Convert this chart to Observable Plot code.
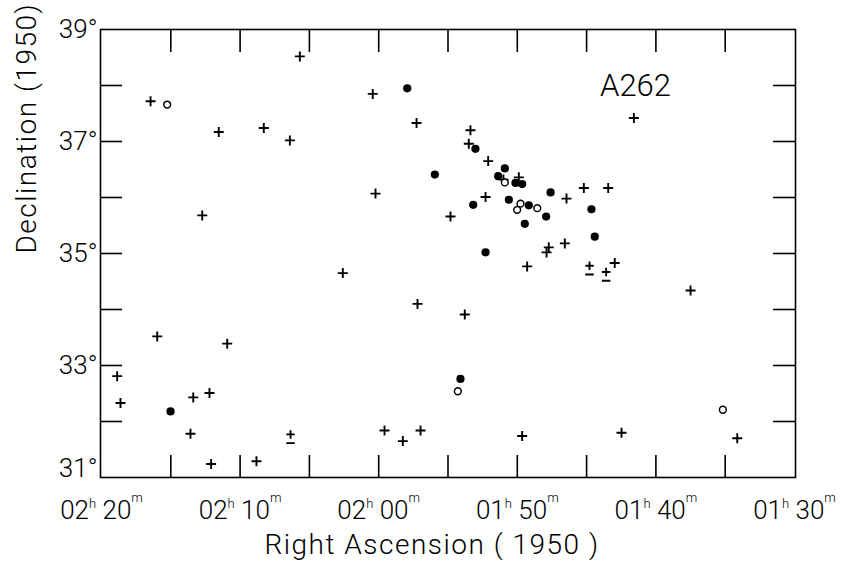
<!DOCTYPE html>
<html><head><meta charset="utf-8">
<script src="https://cdn.jsdelivr.net/npm/d3@7"></script>
<script src="https://cdn.jsdelivr.net/npm/@observablehq/plot@0.6"></script>
<style>
body{margin:0;background:#fff;}
#chart{width:841px;height:563px;}
</style></head><body><div id="chart"></div>
<script>
// Right Ascension in minutes of time (140 = 02h 20m, 90 = 01h 30m); Declination in degrees (1950)
const plusRA  = [136.46,131.54,128.29,126.41,125.69,120.43,117.27,120.23,132.73,122.59,
                 113.38,113.50,112.10,111.00,109.89,105.20,103.44,106.45,112.29,114.82,
                 107.73,107.89,106.57,109.29,102.97,101.59,135.98,130.93,138.87,138.63,
                 133.38,132.21,133.58,132.09,128.82,119.58,118.26,116.98,117.20,113.79,
                 109.65,102.48,97.50,94.13];
const plusDec = [37.72,37.17,37.24,37.02,38.52,37.85,37.33,36.07,35.68,34.65,
                 37.20,36.96,36.65,36.32,36.36,36.17,36.17,35.98,36.01,35.66,
                 35.11,35.02,35.18,34.77,34.83,37.42,33.52,33.39,32.81,32.33,
                 32.43,32.51,31.78,31.24,31.29,31.84,31.65,31.84,34.10,33.91,
                 31.74,31.80,34.34,31.70];
const pmRA  = [104.79,103.59,126.36];
const pmDec = [34.78,34.67,31.77];
const filledRA  = [117.94,113.02,115.95,110.90,111.38,110.13,109.65,107.60,110.61,113.18,
                   109.17,107.92,104.65,109.46,104.41,112.29,135.02,114.10];
const filledDec = [37.95,36.87,36.41,36.52,36.38,36.26,36.24,36.09,35.96,35.87,
                   35.86,35.66,35.79,35.53,35.30,35.02,32.18,32.76];
const openRA  = [135.26,110.90,109.77,110.01,108.56,114.29,95.17];
const openDec = [37.66,36.27,35.89,35.78,35.81,32.54,32.21];

const xTickValues = [135,130,125,120,115,110,105,100,95];
const yTickValues = [32,33,34,35,36,37,38];
const xLabelValues = [140,130,120,110,100,90];
const xLabelText = ["02h 20m","02h 10m","02h 00m","01h 50m","01h 40m","01h 30m"];
const yLabelValues = [39,37,35,33];
const yLabelText = ["39°","37°","35°","33°"];
const yLowValues = [31];
const yLowText = ["31°"];

const plusSym = {draw(ctx, size){const r=Math.sqrt(size/Math.PI);
  ctx.moveTo(-r,0);ctx.lineTo(r,0);ctx.moveTo(0,-r);ctx.lineTo(0,r);}};
const pmSym = {draw(ctx, size){const r=Math.sqrt(size/Math.PI);const a=r*0.85;
  ctx.moveTo(-a,0);ctx.lineTo(a,0);ctx.moveTo(0,-a);ctx.lineTo(0,a);
  ctx.moveTo(-a,1.75*r);ctx.lineTo(a,1.75*r);}};

const W=841,H=563,ML=100,MR=46,MT=29,MB=86;
const PW=W-ML-MR, PH=H-MT-MB;
const font="Roboto, 'DejaVu Sans', sans-serif";
const idx = a => d3.range(a.length);

const chart = Plot.plot({
  width: W, height: H,
  marginLeft: ML, marginRight: MR, marginTop: MT, marginBottom: MB,
  x: {domain:[140,90], inset: 1, axis: null},
  y: {domain:[31,39], axis: null},
  style: {fontFamily: font, fontWeight: 300, background: "white", color: "black"},
  marks: [
    Plot.frame({stroke:"black", strokeWidth:1.6}),
    Plot.ruleX(xTickValues, {x: d=>d, insetBottom: PH-23, stroke:"black", strokeWidth:1.6}),
    Plot.ruleX(xTickValues, {x: d=>d, insetTop: PH-22, stroke:"black", strokeWidth:1.6}),
    Plot.ruleY(yTickValues, {y: d=>d, insetRight: PW-22, stroke:"black", strokeWidth:1.6}),
    Plot.ruleY(yTickValues, {y: d=>d, insetLeft: PW-22, stroke:"black", strokeWidth:1.6}),
    Plot.text(xLabelValues, {x: d=>d, text: (d,i)=>xLabelText[i], frameAnchor:"bottom", lineAnchor:"bottom", dy: 41, fontSize: 26, fill:"black"}),
    Plot.text(yLabelValues, {y: d=>d, text: (d,i)=>yLabelText[i], frameAnchor:"left", textAnchor:"end", dx: -3, fontSize: 26, fill:"black"}),
    Plot.text(yLowValues, {y: d=>d, text: (d,i)=>yLowText[i], frameAnchor:"left", textAnchor:"end", dx: -3, dy: -9, fontSize: 26, fill:"black"}),
    Plot.text(["Right Ascension ( 1950 )"], {frameAnchor:"bottom", lineAnchor:"bottom", dx: -16, dy: 76, fontSize: 28, fill:"black"}),
    Plot.text(["Declination (1950)"], {frameAnchor:"left", rotate: -90, lineAnchor:"bottom", dx: -65, fontSize: 28, fill:"black"}),
    Plot.text(["A262"], {frameAnchor:"top-right", textAnchor:"middle", lineAnchor:"bottom", dx: -160, dy: 66, fontSize: 31, fill:"black"}),
    Plot.dot(idx(plusRA), {x: i=>plusRA[i], y: i=>plusDec[i], symbol: plusSym, r: 5, stroke:"black", strokeWidth: 1.9, fill:"none"}),
    Plot.dot(idx(pmRA), {x: i=>pmRA[i], y: i=>pmDec[i], symbol: pmSym, r: 5, stroke:"black", strokeWidth: 1.9, fill:"none"}),
    Plot.dot(idx(filledRA), {x: i=>filledRA[i], y: i=>filledDec[i], r: 4.1, fill:"black", stroke:"none"}),
    Plot.dot(idx(openRA), {x: i=>openRA[i], y: i=>openDec[i], r: 3.4, fill:"white", stroke:"black", strokeWidth: 1.5})
  ]
});

d3.select(chart).selectAll("text").each(function(){
  const m = /^(\d\d)h (\d\d)m$/.exec(this.textContent);
  if (!m) return;
  const s = d3.select(this); s.text(null);
  s.append("tspan").text(m[1]);
  s.append("tspan").attr("dy", -11).attr("font-size", 13).text("h");
  s.append("tspan").attr("dy", 11).text(" " + m[2]);
  s.append("tspan").attr("dy", -17).attr("font-size", 13).text("m");
});
d3.select(chart).selectAll("text").attr("letter-spacing", function(){
  const t=this.textContent; return (t.startsWith("Right")||t.startsWith("Decl")) ? 1.5 : null;
});
document.getElementById("chart").appendChild(chart);
</script></body></html>
